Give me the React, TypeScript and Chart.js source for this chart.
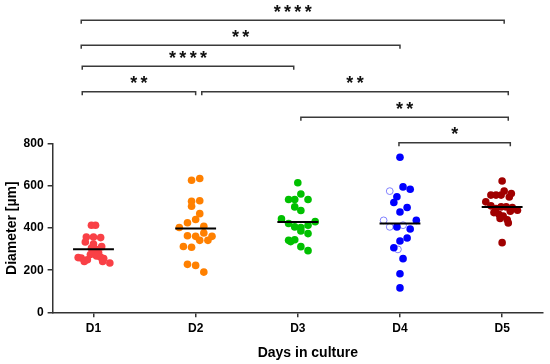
import React, { useEffect, useRef } from 'react';
import { Chart, registerables } from 'chart.js';

Chart.register(...registerables);

// ---------- data ----------
const categories = ['D1', 'D2', 'D3', 'D4', 'D5'];
const yTickValues = [0, 200, 400, 600, 800];
const xTitle = 'Days in culture';
const yTitle = 'Diameter [µm]';

const d1Values = [414, 414, 358, 358, 355, 334, 325, 312, 305, 298, 290, 283, 275, 268, 262, 260, 258, 256, 250, 242, 242, 234];
const d1Jitter = [-0.02, 0.02, -0.07, 0.0, 0.07, -0.08, 0.0, 0.08, -0.02, 0.03, 0.0, 0.05, -0.03, 0.03, 0.07, -0.15, -0.12, 0.1, -0.06, -0.09, 0.09, 0.16];

const d2Values = [628, 636, 528, 530, 504, 469, 441, 426, 403, 409, 377, 364, 361, 342, 342, 361, 313, 309, 228, 223, 191];
const d2Jitter = [-0.04, 0.04, -0.04, 0.04, -0.04, 0.04, 0.0, -0.08, -0.16, 0.08, 0.08, -0.08, 0.0, 0.04, 0.12, 0.16, -0.12, -0.04, -0.08, 0.0, 0.08];

const d3Values = [616, 562, 536, 536, 536, 501, 484, 444, 431, 422, 414, 406, 403, 387, 374, 342, 345, 336, 312, 293];
const d3Jitter = [0.0, 0.03, -0.09, -0.03, 0.1, -0.03, 0.03, -0.16, 0.17, -0.09, 0.1, -0.03, 0.03, 0.03, 0.1, -0.09, -0.03, -0.07, 0.03, 0.1];

const d4Values = [737, 596, 585, 549, 522, 498, 477, 437, 406, 396, 353, 339, 307, 255, 183, 116];
const d4Jitter = [0.0, 0.03, 0.1, -0.03, -0.06, 0.07, 0.0, 0.16, -0.03, 0.1, 0.07, 0.0, -0.06, 0.03, 0.0, 0.0];
const d4OpenValues = [576, 437, 406, 414, 299];
const d4OpenJitter = [-0.1, -0.16, -0.1, 0.03, -0.02];

const d5Values = [624, 576, 565, 557, 557, 557, 548, 525, 506, 501, 501, 498, 493, 485, 480, 474, 465, 458, 446, 440, 425, 331];
const d5Jitter = [0.0, 0.02, 0.09, -0.11, -0.06, -0.01, 0.07, -0.16, -0.11, -0.01, 0.04, 0.1, -0.06, 0.15, 0.08, -0.08, -0.03, 0.01, -0.02, 0.05, 0.06, 0.0];

const meanValues = [300, 398, 429, 422, 500];

// significance brackets (x in category units, level in µm units)
const bracketStarts = [0.88, 0.88, 0.89, 0.89, 2.06, 3.03, 3.99];
const bracketEnds = [5.02, 4.0, 2.96, 2.0, 5.06, 5.06, 5.08];
const bracketLevels = [1388, 1269, 1169, 1048, 1048, 927, 806];
const bracketLabels = ['****', '**', '****', '**', '**', '**', '*'];

// ---------- styles ----------
const FONT = '"Liberation Sans", Arial, Helvetica, sans-serif';
const groupColors = ['#f94046', '#ff8000', '#00c000', '#0000ff', '#a00000'];
const openColor = '#8080ff';
const axisColor = '#333333';

const groupValues = [d1Values, d2Values, d3Values, d4Values, d5Values];
const groupJitter = [d1Jitter, d2Jitter, d3Jitter, d4Jitter, d5Jitter];

const X_TITLE_SIZE = 14;
const X_TITLE_PAD_BOTTOM = 2.5;

const bracketPlugin = {
  id: 'sigBrackets',
  afterDraw(chart: any) {
    const { ctx, scales, chartArea } = chart;
    const xs = scales.x;
    const ys = scales.y;
    ctx.save();
    ctx.strokeStyle = '#3a3a3a';
    ctx.lineWidth = 1.5;
    const size = 18;
    ctx.font = `bold ${size}px ${FONT}`;
    ctx.fillStyle = '#111';
    ctx.textAlign = 'center';
    ctx.textBaseline = 'alphabetic';
    bracketLevels.forEach((lvl, i) => {
      const x1 = xs.getPixelForValue(bracketStarts[i]);
      const x2 = xs.getPixelForValue(bracketEnds[i]);
      const yy = ys.getPixelForValue(lvl);
      ctx.beginPath();
      ctx.moveTo(x1, yy + 3.5);
      ctx.lineTo(x1, yy);
      ctx.lineTo(x2, yy);
      ctx.lineTo(x2, yy + 3.5);
      ctx.stroke();
      const label = bracketLabels[i];
      const n = label.length;
      const cx = (x1 + x2) / 2;
      const spacing = 10.3;
      const base = yy - 12.5 + 0.56 * size;
      for (let j = 0; j < n; j++) {
        ctx.fillText('*', cx + (j - (n - 1) / 2) * spacing, base);
      }
    });
    // x-axis title (drawn slightly right of centre as in the reference)
    ctx.font = `bold ${X_TITLE_SIZE}px ${FONT}`;
    ctx.fillStyle = '#000';
    ctx.textBaseline = 'middle';
    const ty = xs.bottom - X_TITLE_PAD_BOTTOM - (X_TITLE_SIZE * 1.2) / 2;
    ctx.fillText(xTitle, (chartArea.left + chartArea.right) / 2 + 10, ty);
    ctx.restore();
  },
};

export default function App() {
  const canvasRef = useRef<HTMLCanvasElement | null>(null);

  useEffect(() => {
    const canvas = canvasRef.current;
    if (!canvas) return;

    const pointSets: any[] = groupValues.map((vals, gi) => ({
      type: 'scatter',
      label: categories[gi],
      data: vals.map((v, k) => ({ x: gi + 1 + groupJitter[gi][k], y: v })),
      backgroundColor: groupColors[gi],
      borderColor: groupColors[gi],
      pointRadius: 3.8,
      pointBorderWidth: 0,
      pointHoverRadius: 3.8,
      order: 2,
    }));

    const openSet: any = {
      type: 'scatter',
      label: 'D4 excluded',
      data: d4OpenValues.map((v, k) => ({ x: 4 + d4OpenJitter[k], y: v })),
      backgroundColor: 'rgba(0,0,0,0)',
      borderColor: openColor,
      pointRadius: 3.4,
      pointBorderWidth: 1,
      order: 3,
    };

    const meanSets: any[] = meanValues.map((m, gi) => ({
      type: 'scatter',
      label: 'mean ' + categories[gi],
      data: [
        { x: gi + 1 - 0.2, y: m },
        { x: gi + 1 + 0.2, y: m },
      ],
      showLine: true,
      borderColor: '#000',
      borderWidth: 2,
      pointRadius: 0,
      order: 1,
    }));

    const chart = new Chart(canvas, {
      type: 'scatter',
      data: { datasets: [openSet, ...pointSets, ...meanSets] },
      options: {
        responsive: false,
        animation: false,
        devicePixelRatio: 1,
        layout: { padding: { top: 144, right: 7, left: 0, bottom: 0 } },
        plugins: {
          legend: { display: false },
          tooltip: { enabled: false },
        },
        scales: {
          x: {
            type: 'linear',
            min: 0.6,
            max: 5.4,
            afterBuildTicks: (s: any) => {
              s.ticks = categories.map((_, i) => ({ value: i + 1 }));
            },
            ticks: {
              callback: (v: any) => categories[Math.round(Number(v)) - 1] ?? '',
              font: { family: FONT, size: 12, weight: 'bold' },
              color: '#000',
              padding: 4.5,
              maxRotation: 0,
              autoSkip: false,
            },
            grid: {
              drawOnChartArea: false,
              drawTicks: true,
              tickLength: 5,
              color: axisColor,
              lineWidth: 1.5,
            },
            border: { display: true, color: axisColor, width: 1.5 },
            title: {
              display: true,
              text: xTitle,
              font: { family: FONT, size: X_TITLE_SIZE, weight: 'bold' },
              color: 'rgba(0,0,0,0)',
              padding: { top: 4, bottom: X_TITLE_PAD_BOTTOM },
            },
          },
          y: {
            type: 'linear',
            min: 0,
            max: 800,
            afterBuildTicks: (s: any) => {
              s.ticks = yTickValues.map((v) => ({ value: v }));
            },
            ticks: {
              font: { family: FONT, size: 12, weight: 'bold' },
              color: '#000',
              padding: 4,
            },
            grid: {
              drawOnChartArea: false,
              drawTicks: true,
              tickLength: 5,
              color: axisColor,
              lineWidth: 1.5,
            },
            border: { display: true, color: axisColor, width: 1.5 },
            title: {
              display: true,
              text: yTitle,
              font: { family: FONT, size: 14, weight: 'bold', lineHeight: 1.0 },
              color: '#000',
              padding: { top: 5, bottom: 0.6 },
            },
          },
        },
      } as any,
      plugins: [bracketPlugin],
    });

    return () => chart.destroy();
  }, []);

  return (
    <div style={{ position: 'fixed', left: 0, top: 0, width: 550, height: 364, background: '#fff' }}>
      <canvas ref={canvasRef} width={550} height={364} style={{ display: 'block' }} />
    </div>
  );
}
